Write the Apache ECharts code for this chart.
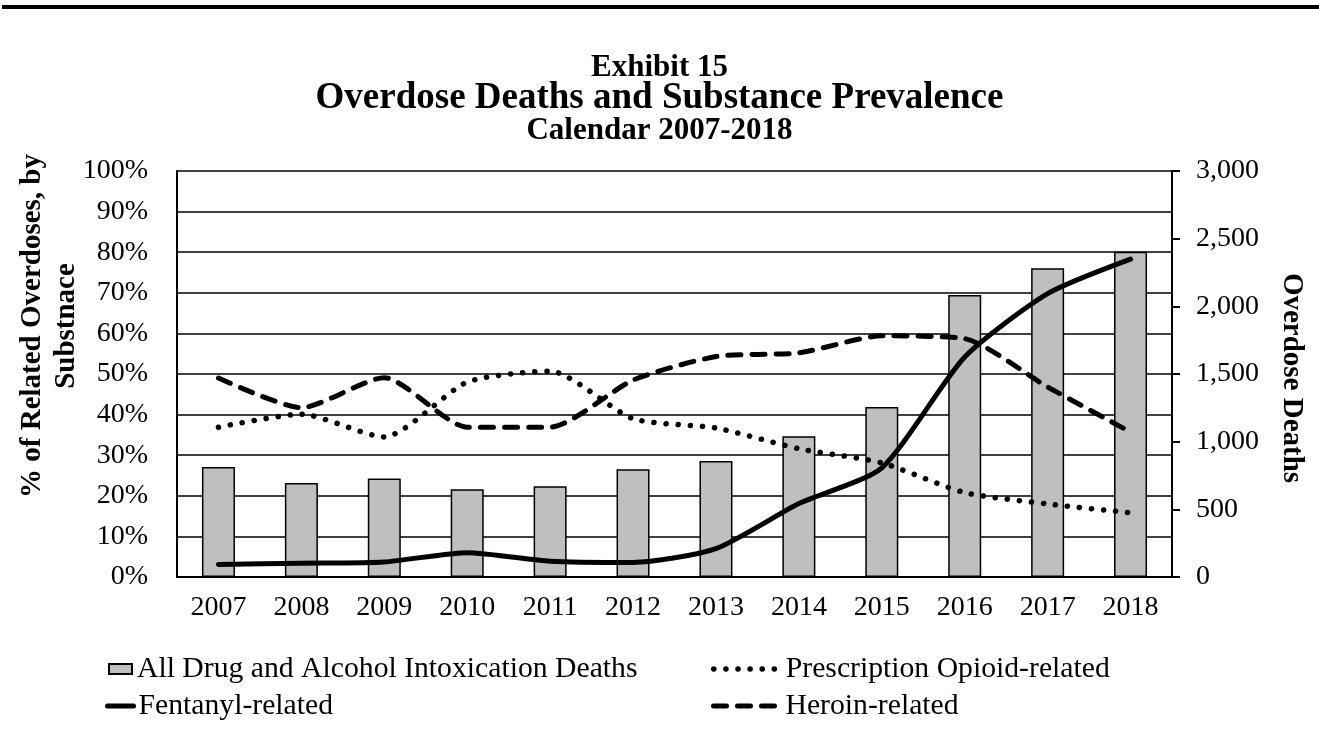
<!DOCTYPE html>
<html>
<head>
<meta charset="utf-8">
<script src="https://cdn.jsdelivr.net/npm/echarts@6/dist/echarts.min.js"></script>
<style>
  html, body { margin: 0; padding: 0; background: #fff; }
  #chart { width: 1319px; height: 729px; }
</style>
</head>
<body>
<div id="chart"></div>
<script>
// Calendar years
const years = ['2007', '2008', '2009', '2010', '2011', '2012', '2013', '2014', '2015', '2016', '2017', '2018'];

// All drug and alcohol intoxication deaths (right axis, count)
const allDeaths = [813, 695, 727, 648, 670, 796, 857, 1040, 1256, 2084, 2281, 2404];

// Share of related overdoses by substance (left axis, percent)
const prescriptionOpioid = [36.9, 40.1, 34.5, 48.0, 50.7, 39.0, 36.7, 31.6, 28.1, 20.8, 18.0, 15.8];
const fentanyl = [3.1, 3.4, 3.7, 6.0, 3.9, 3.6, 7.0, 18.1, 26.9, 54.2, 69.8, 78.3];
const heroin = [49.0, 41.7, 49.1, 36.9, 36.9, 48.5, 54.3, 55.2, 59.4, 58.7, 46.8, 35.7];

// Series names
const names = {
  all: 'All Drug and Alcohol Intoxication Deaths',
  rx: 'Prescription Opioid-related',
  fent: 'Fentanyl-related',
  her: 'Heroin-related'
};

const FONT = '"Liberation Serif", "Times New Roman", serif';
const chart = echarts.init(document.getElementById('chart'), null, { renderer: 'canvas' });

// stroke styles shared by each series and its legend icon
const dottedStyle = { color: '#000', width: 5.5, type: [0.1, 12], cap: 'round' };
const solidStyle = { color: '#000', width: 5, type: 'solid', cap: 'round', join: 'round' };
const dashedStyle = { color: '#000', width: 5, type: [13, 11], cap: 'round' };

const legendText = { fontFamily: FONT, fontSize: 29.7, color: '#000', lineHeight: 30 };
const legendTextRight = Object.assign({}, legendText, { padding: [0, 0, 0, 5] });
// line legends show only the stroke, no marker dot
const noMarker = { color: 'rgba(0,0,0,0)', borderWidth: 0 };

chart.setOption({
  backgroundColor: '#fff',
  animation: false,
  title: [
    { text: 'Exhibit 15', left: 'center', top: 52, padding: 0,
      textStyle: { fontFamily: FONT, fontSize: 31, fontWeight: 'bold', color: '#000', lineHeight: 31 } },
    { text: 'Overdose Deaths and Substance Prevalence', left: 'center', top: 80, padding: 0,
      textStyle: { fontFamily: FONT, fontSize: 37, fontWeight: 'bold', color: '#000', lineHeight: 37 } },
    { text: 'Calendar 2007-2018', left: 'center', top: 115, padding: 0,
      textStyle: { fontFamily: FONT, fontSize: 31, fontWeight: 'bold', color: '#000', lineHeight: 31 } }
  ],
  grid: { left: 177, right: 147, top: 171, bottom: 152, containLabel: false },
  legend: [
    { data: [names.all], left: 108, top: 654, padding: 0, icon: 'rect', itemWidth: 23, itemHeight: 10,
      textStyle: legendText, selectedMode: false },
    { data: [names.fent], left: 105, top: 691, padding: 0, itemWidth: 26, itemHeight: 10,
      itemStyle: noMarker, lineStyle: solidStyle, textStyle: legendText, selectedMode: false },
    { data: [names.rx], left: 711, top: 654, padding: 0, itemWidth: 62, itemHeight: 10,
      itemStyle: noMarker, lineStyle: dottedStyle, textStyle: legendTextRight, selectedMode: false },
    { data: [names.her], left: 711, top: 691, padding: 0, itemWidth: 62, itemHeight: 10,
      itemStyle: noMarker, lineStyle: dashedStyle, textStyle: legendTextRight, selectedMode: false }
  ],
  xAxis: {
    type: 'category',
    data: years,
    boundaryGap: true,
    axisLine: { show: true, lineStyle: { color: '#000', width: 2 } },
    axisTick: { show: false },
    axisLabel: { fontFamily: FONT, fontSize: 28, color: '#000', margin: 17 },
    splitLine: { show: false }
  },
  yAxis: [
    {
      type: 'value',
      min: 0, max: 100, interval: 10,
      position: 'left',
      axisLine: { show: true, lineStyle: { color: '#000', width: 2 } },
      axisTick: { show: false },
      axisLabel: { fontFamily: FONT, fontSize: 28, color: '#000', margin: 29, formatter: '{value}%' },
      splitLine: { show: true, lineStyle: { color: '#000', width: 1.6 } }
    },
    {
      type: 'value',
      min: 0, max: 3000, interval: 500,
      position: 'right',
      axisLine: { show: true, lineStyle: { color: '#000', width: 2 } },
      axisTick: { show: true, inside: false, length: 8, lineStyle: { color: '#000', width: 2 } },
      axisLabel: {
        fontFamily: FONT, fontSize: 28, color: '#000', margin: 24,
        formatter: v => v.toLocaleString('en-US')
      },
      splitLine: { show: false }
    }
  ],
  series: [
    {
      name: names.all,
      type: 'bar',
      yAxisIndex: 1,
      data: allDeaths,
      barWidth: 33,
      itemStyle: { color: '#BFBFBF', borderColor: '#000', borderWidth: 1.5 },
      z: 2
    },
    {
      name: names.rx,
      type: 'line',
      yAxisIndex: 0,
      data: prescriptionOpioid,
      smooth: 0.22,
      symbol: 'none',
      lineStyle: dottedStyle,
      itemStyle: { color: '#000' },
      z: 3
    },
    {
      name: names.fent,
      type: 'line',
      yAxisIndex: 0,
      data: fentanyl,
      smooth: 0.22,
      symbol: 'none',
      lineStyle: solidStyle,
      itemStyle: { color: '#000' },
      z: 4
    },
    {
      name: names.her,
      type: 'line',
      yAxisIndex: 0,
      data: heroin,
      smooth: 0.22,
      symbol: 'none',
      lineStyle: dashedStyle,
      itemStyle: { color: '#000' },
      z: 3
    }
  ],
  graphic: [
    // heavy rule across the top of the page
    { type: 'rect', left: 2, top: 5, shape: { width: 1317, height: 4 }, style: { fill: '#000' }, silent: true },
    // left axis title, two lines, reading upward
    {
      type: 'text', x: 50, y: 326, rotation: Math.PI / 2, silent: true,
      style: {
        text: '% of Related Overdoses, by\nSubstnace',
        fontFamily: FONT, fontSize: 29, fontWeight: 'bold', fill: '#000',
        align: 'center', verticalAlign: 'middle', lineHeight: 34
      }
    },
    // right axis title, reading downward
    {
      type: 'text', x: 1291, y: 378, rotation: -Math.PI / 2, silent: true,
      style: {
        text: 'Overdose Deaths',
        fontFamily: FONT, fontSize: 29, fontWeight: 'bold', fill: '#000',
        align: 'center', verticalAlign: 'middle'
      }
    }
  ]
});
</script>
</body>
</html>
